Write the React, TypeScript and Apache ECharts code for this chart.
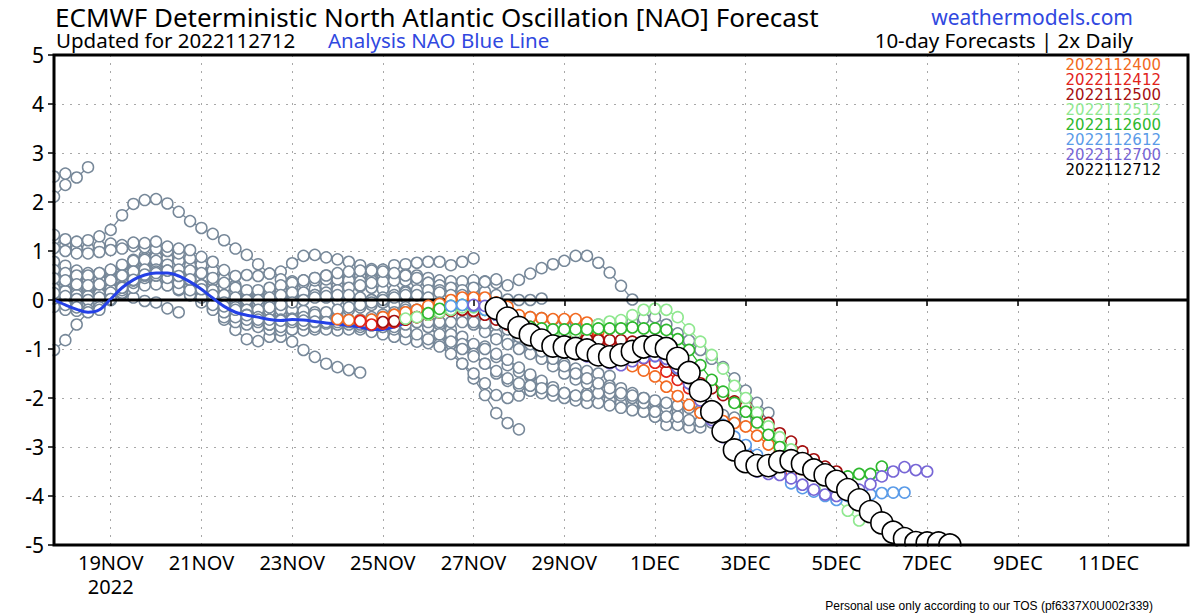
import React, { useEffect, useRef } from "react";
import * as echarts from "echarts";

// x axis: 6-hourly steps, step 0 = 17NOV 18Z, step 100 = 12DEC 18Z
const STEP_COUNT = 101;
const TICK_STEPS = [5, 13, 21, 29, 37, 45, 53, 61, 69, 77, 85, 93];
const TICK_LABELS = ["19NOV\n2022", "21NOV", "23NOV", "25NOV", "27NOV", "29NOV", "1DEC", "3DEC", "5DEC", "7DEC", "9DEC", "11DEC"];

// analysis NAO (blue line), steps 0..39
const ANALYSIS = [0.0, -0.10, -0.19, -0.25, -0.20, 0.02, 0.25, 0.41, 0.51, 0.55, 0.55, 0.49, 0.37, 0.22, 0.04, -0.13, -0.25, -0.31, -0.35, -0.40, -0.42, -0.40, -0.41, -0.44, -0.47, -0.49, -0.52, -0.55, -0.60, -0.60, -0.55, -0.47, -0.39, -0.33, -0.25, -0.19, -0.16, -0.16, -0.22, -0.37];

// older forecasts (grey): init step of each run; values begin at max(0, init)
const GRAY_INITS = [-39, -37, -35, -33, -31, -29, -27, -25, -23, -21, -19, -17, -15, -13, -11, -9, -7, -5, -3, -1, 1, 3, 5, 7, 9, 11, 13, 15, 17, 19, 21, 23];
const GRAY_VALUES = [
  [2.11, 2.35],
  [2.52, 2.58, 2.50, 2.71],
  [-1.02, -0.82, -0.50, -0.24, -0.12, 0.02],
  [0.03, -0.05, -0.12, -0.08, 0.05, 0.2, 0.32, 0.4],
  [0.44, 0.38, 0.3, 0.28, 0.35, 0.45, 0.6, 0.75, 0.8, 0.78],
  [-0.14, -0.2, -0.22, -0.15, 0.0, 0.1, 0.12, 0.05, -0.02, -0.05, -0.17, -0.25],
  [0.34, 0.3, 0.22, 0.2, 0.25, 0.38, 0.5, 0.6, 0.65, 0.68, 0.62, 0.5, 0.4, 0.3],
  [0.55, 0.5, 0.45, 0.4, 0.42, 0.55, 0.7, 0.82, 0.9, 0.95, 0.92, 0.85, 0.75, 0.6, 0.45, 0.35],
  [0.14, 0.1, 0.05, 0.0, 0.05, 0.15, 0.3, 0.42, 0.5, 0.55, 0.55, 0.5, 0.4, 0.25, 0.1, -0.05, -0.15, -0.25],
  [0.24, 0.2, 0.15, 0.12, 0.15, 0.25, 0.38, 0.5, 0.6, 0.65, 0.62, 0.55, 0.45, 0.3, 0.15, 0.0, -0.15, -0.3, -0.4, -0.45],
  [0.78, 0.7, 0.6, 0.55, 0.55, 0.6, 0.7, 0.8, 0.85, 0.88, 0.85, 0.8, 0.7, 0.55, 0.4, 0.25, 0.15, 0.1, 0.1, 0.15, 0.2, 0.25],
  [1.24, 1.12, 1.05, 1.06, 1.1, 1.15, 1.12, 1.1, 1.08, 1.05, 1.0, 0.95, 0.85, 0.72, 0.6, 0.45, 0.3, 0.15, 0.05, 0.0, 0.0, 0.05, 0.1, 0.1],
  [0.61, 0.55, 0.5, 0.5, 0.55, 0.62, 0.72, 0.8, 0.82, 0.8, 0.72, 0.6, 0.45, 0.3, 0.15, 0.0, -0.1, -0.2, -0.25, -0.3, -0.3, -0.3, -0.32, -0.35, -0.4, -0.45],
  [0.1, 0.05, 0.0, -0.05, 0.0, 0.1, 0.2, 0.3, 0.35, 0.35, 0.3, 0.2, 0.1, 0.0, -0.15, -0.4, -0.61, -0.8, -0.84, -0.75, -0.75, -0.85, -1.02, -1.16, -1.3, -1.37, -1.43, -1.48],
  [1.06, 1.0, 0.95, 0.95, 0.98, 1.02, 1.05, 1.17, 1.16, 1.19, 1.09, 1.05, 1.02, 0.88, 0.78, 0.61, 0.49, 0.51, 0.49, 0.54, 0.58, 0.75, 0.9, 0.92, 0.87, 0.83, 0.78, 0.71, 0.63, 0.61],
  [0.03, 0.0, -0.05, -0.1, -0.05, 0.05, 0.15, 0.25, 0.3, 0.32, 0.3, 0.22, 0.1, -0.05, -0.2, -0.35, -0.45, -0.5, -0.55, -0.6, -0.62, -0.6, -0.58, -0.55, -0.5, -0.48, -0.45, -0.45, -0.48, -0.5, -0.55, -0.6],
  [0.24, 0.18, 0.1, 0.08, 0.12, 0.22, 0.35, 0.45, 0.52, 0.55, 0.5, 0.4, 0.25, 0.1, -0.05, -0.15, -0.22, -0.25, -0.22, -0.15, -0.05, 0.05, 0.15, 0.22, 0.28, 0.3, 0.3, 0.28, 0.25, 0.22, 0.2, 0.18, 0.15, 0.12],
  [0.14, 0.08, 0.02, 0.0, 0.05, 0.15, 0.28, 0.4, 0.48, 0.52, 0.5, 0.42, 0.3, 0.15, 0.0, -0.12, -0.25, -0.35, -0.42, -0.45, -0.45, -0.42, -0.4, -0.35, -0.3, -0.25, -0.2, -0.15, -0.1, -0.05, 0.0, 0.05, 0.1, 0.15, 0.2, 0.25],
  [1.33, 1.24, 1.19, 1.22, 1.3, 1.43, 1.73, 1.96, 2.04, 2.06, 1.97, 1.8, 1.61, 1.47, 1.35, 1.22, 1.05, 0.92, 0.73, 0.54, 0.42, 0.38, 0.4, 0.45, 0.5, 0.52, 0.5, 0.5, 0.55, 0.62, 0.71, 0.73, 0.76, 0.78, 0.78, 0.71, 0.78, 0.85],
  [0.44, 0.4, 0.32, 0.3, 0.32, 0.4, 0.5, 0.58, 0.62, 0.62, 0.58, 0.5, 0.4, 0.28, 0.15, 0.05, 0.0, 0.0, 0.05, 0.12, 0.2, 0.28, 0.35, 0.4, 0.42, 0.42, 0.4, 0.38, 0.4, 0.45, 0.5, 0.52, 0.5, 0.45, 0.4, 0.38, 0.38, 0.4, 0.38, 0.35],
  [-0.10, -0.15, -0.20, -0.15, 0.0, 0.2, 0.35, 0.45, 0.5, 0.48, 0.4, 0.28, 0.1, -0.05, -0.2, -0.3, -0.35, -0.4, -0.45, -0.5, -0.55, -0.55, -0.52, -0.5, -0.5, -0.48, -0.45, -0.4, -0.35, -0.3, -0.3, -0.38, -0.55, -0.75, -1.0, -1.3, -1.6, -1.94, -2.31, -2.51, -2.64],
  [-0.25, -0.2, 0.0, 0.25, 0.4, 0.5, 0.55, 0.55, 0.5, 0.4, 0.3, 0.2, 0.1, 0.0, -0.05, -0.1, -0.1, -0.05, 0.0, 0.05, 0.1, 0.15, 0.2, 0.25, 0.3, 0.35, 0.38, 0.4, 0.4, 0.38, 0.35, 0.3, 0.25, 0.2, 0.17, 0.17, 0.1, 0.01, 0.0, 0.0, 0.03],
  [0.02, 0.25, 0.4, 0.5, 0.5, 0.45, 0.35, 0.2, 0.05, -0.1, -0.25, -0.35, -0.4, -0.45, -0.5, -0.5, -0.48, -0.45, -0.45, -0.48, -0.5, -0.55, -0.6, -0.65, -0.7, -0.75, -0.8, -0.85, -0.88, -0.9, -0.9, -0.9, -0.92, -0.95, -1.16, -1.33, -1.46, -1.56, -1.7, -1.87, -1.96],
  [0.41, 0.52, 0.58, 0.6, 0.55, 0.45, 0.3, 0.15, 0.0, -0.1, -0.18, -0.2, -0.22, -0.2, -0.2, -0.22, -0.25, -0.3, -0.35, -0.4, -0.45, -0.5, -0.55, -0.6, -0.65, -0.7, -0.8, -0.95, -1.1, -1.3, -1.5, -1.7, -1.94, -2.0, -1.95, -1.85, -1.78, -1.8, -1.9, -1.96, -1.9],
  [0.55, 0.6, 0.62, 0.6, 0.55, 0.45, 0.35, 0.25, 0.2, 0.2, 0.25, 0.3, 0.35, 0.4, 0.45, 0.5, 0.55, 0.58, 0.6, 0.6, 0.58, 0.55, 0.5, 0.45, 0.35, 0.2, 0.0, -0.2, -0.4, -0.55, -0.7, -0.8, -0.9, -1.0, -1.1, -1.2, -1.3, -1.4, -1.45, -1.5, -1.55],
  [0.49, 0.42, 0.3, 0.2, 0.1, 0.05, 0.0, 0.0, 0.05, 0.1, 0.15, 0.15, 0.1, 0.05, 0.0, -0.05, -0.05, 0.0, 0.05, 0.1, 0.15, 0.2, 0.2, 0.15, 0.1, 0.1, 0.25, 0.37, 0.42, 0.3, 0.41, 0.54, 0.65, 0.73, 0.8, 0.9, 0.9, 0.76, 0.56, 0.29, 0.01],
  [0.22, 0.1, -0.05, -0.15, -0.2, -0.2, -0.15, -0.1, -0.05, 0.0, 0.05, 0.08, 0.1, 0.1, 0.05, 0.0, -0.05, -0.1, -0.15, -0.2, -0.3, -0.45, -0.6, -0.75, -0.9, -1.0, -1.1, -1.22, -1.38, -1.52, -1.65, -1.78, -1.9, -1.96, -1.95, -1.92, -2.04, -2.1, -2.17, -2.24, -2.38],
  [-0.13, -0.2, -0.3, -0.35, -0.4, -0.4, -0.38, -0.35, -0.3, -0.25, -0.2, -0.15, -0.1, -0.05, 0.0, 0.05, 0.1, 0.1, 0.05, -0.05, -0.2, -0.35, -0.5, -0.65, -0.8, -0.9, -1.0, -1.1, -1.2, -1.35, -1.5, -1.62, -1.7, -1.72, -1.75, -1.8, -1.9, -2.0, -2.1, -2.2, -2.3],
  [-0.31, -0.4, -0.5, -0.55, -0.6, -0.62, -0.6, -0.55, -0.5, -0.45, -0.4, -0.35, -0.3, -0.25, -0.2, -0.25, -0.35, -0.5, -0.7, -0.9, -1.1, -1.3, -1.5, -1.65, -1.75, -1.85, -1.9, -1.95, -2.0, -2.05, -2.1, -2.1, -2.15, -2.2, -2.25, -2.28, -2.38, -2.55, -2.55, -2.6, -2.6],
  [-0.4, -0.42, -0.45, -0.5, -0.55, -0.6, -0.62, -0.6, -0.55, -0.5, -0.45, -0.4, -0.4, -0.45, -0.55, -0.7, -0.85, -1.0, -1.15, -1.3, -1.45, -1.6, -1.7, -1.75, -1.8, -1.85, -1.9, -1.95, -1.95, -1.9, -1.9, -1.95, -2.0, -2.1, -2.28, -2.38, -2.38, -2.45, -2.48, -2.5, -2.52],
  [-0.4, -0.42, -0.45, -0.48, -0.5, -0.5, -0.5, -0.52, -0.55, -0.55, -0.5, -0.45, -0.45, -0.45, -0.45, -0.45, -0.45, -0.47, -0.5, -0.6, -0.75, -0.9, -1.05, -1.2, -1.35, -1.5, -1.6, -1.7, -1.8, -1.9, -1.95, -2.0, -2.05, -2.1, -2.15, -2.2, -2.25, -2.3, -2.35, -2.4, -2.45],
  [-0.44, -0.45, -0.45, -0.45, -0.42, -0.4, -0.35, -0.3, -0.25, -0.2, -0.15, -0.1, -0.08, -0.1, -0.15, -0.2, -0.25, -0.3, -0.33, -0.35, -0.37, -0.4, -0.42, -0.45, -0.48, -0.5, -0.52, -0.5, -0.45, -0.38, -0.35, -0.5, -0.68, -0.83, -1.02, -1.2, -1.37, -1.6, -1.85, -2.1, -2.3],
];

// recent forecasts (coloured), each 41 six-hourly values from its init step
const RUN_NAMES = ["2022112400", "2022112412", "2022112500", "2022112512", "2022112600", "2022112612", "2022112700", "2022112712"];
const RUN_COLORS = ["#f26a21", "#e2231a", "#a50f0f", "#90e890", "#2eb82e", "#5a9be8", "#7766d6", "#000000"];
const RUN_STARTS = [25, 27, 29, 31, 33, 35, 37, 39];
const RUN_2400 = [-0.39, -0.41, -0.42, -0.4, -0.35, -0.3, -0.25, -0.2, -0.12, -0.08, 0.0, 0.05, 0.05, 0.05, -0.05, -0.14, -0.31, -0.35, -0.37, -0.39, -0.39, -0.39, -0.46, -0.65, -0.9, -1.15, -1.35, -1.44, -1.56, -1.77, -1.96, -2.14, -2.3, -2.4, -2.47, -2.51, -2.58, -2.77, -2.95, -3.1, -3.25];
const RUN_2412 = [-0.43, -0.5, -0.48, -0.45, -0.4, -0.35, -0.3, -0.25, -0.2, -0.2, -0.22, -0.25, -0.35, -0.45, -0.5, -0.55, -0.6, -0.63, -0.66, -0.68, -0.7, -0.8, -0.9, -1.0, -1.1, -1.19, -1.28, -1.46, -1.63, -1.8, -2.0, -2.35, -2.62, -2.89, -3.09, -3.25, -3.4, -3.47, -3.5, -3.45, -3.4];
const RUN_2500 = [-0.45, -0.43, -0.4, -0.35, -0.3, -0.25, -0.22, -0.2, -0.22, -0.3, -0.4, -0.5, -0.58, -0.64, -0.7, -0.73, -0.76, -0.78, -0.8, -0.82, -0.82, -0.82, -0.85, -0.95, -1.09, -1.26, -1.43, -1.56, -1.7, -1.8, -1.94, -2.07, -2.17, -2.34, -2.51, -2.72, -2.89, -3.09, -3.25, -3.4, -3.5];
const RUN_2512 = [-0.38, -0.35, -0.3, -0.25, -0.2, -0.15, -0.15, -0.2, -0.3, -0.45, -0.55, -0.62, -0.66, -0.68, -0.68, -0.66, -0.6, -0.5, -0.44, -0.41, -0.31, -0.2, -0.18, -0.2, -0.35, -0.6, -0.85, -1.12, -1.4, -1.75, -2.0, -2.3, -2.58, -2.8, -3.05, -3.3, -3.55, -3.8, -4.05, -4.3, -4.5];
const RUN_2600 = [-0.27, -0.18, -0.12, -0.1, -0.12, -0.2, -0.3, -0.42, -0.5, -0.55, -0.58, -0.6, -0.6, -0.6, -0.6, -0.58, -0.58, -0.58, -0.56, -0.58, -0.58, -0.61, -0.8, -1.02, -1.33, -1.63, -1.87, -2.1, -2.28, -2.5, -2.75, -3.0, -3.2, -3.35, -3.5, -3.6, -3.65, -3.6, -3.55, -3.55, -3.4];
const RUN_2612 = [-0.12, -0.1, -0.12, -0.2, -0.3, -0.42, -0.6, -0.75, -0.88, -1.0, -1.05, -1.08, -1.1, -1.18, -1.25, -1.25, -1.2, -1.15, -1.15, -1.2, -1.4, -1.7, -2.0, -2.3, -2.55, -2.79, -2.96, -3.16, -3.35, -3.55, -3.74, -3.84, -3.91, -4.0, -4.08, -4.0, -3.97, -3.97, -3.94, -3.93, -3.93];
const RUN_2700 = [-0.1, -0.12, -0.3, -0.45, -0.62, -0.78, -0.9, -1.0, -1.05, -1.1, -1.15, -1.22, -1.29, -1.33, -1.25, -1.18, -1.14, -1.2, -1.38, -1.7, -2.05, -2.45, -2.8, -3.1, -3.35, -3.5, -3.55, -3.57, -3.64, -3.77, -3.87, -3.97, -4.0, -3.9, -3.87, -3.76, -3.6, -3.5, -3.41, -3.47, -3.5];
const RUN_2712 = [-0.17, -0.37, -0.56, -0.71, -0.82, -0.94, -0.96, -0.99, -1.02, -1.12, -1.16, -1.12, -1.05, -0.96, -0.94, -0.99, -1.19, -1.48, -1.85, -2.28, -2.68, -3.06, -3.30, -3.38, -3.38, -3.30, -3.28, -3.34, -3.47, -3.57, -3.70, -3.87, -4.08, -4.32, -4.55, -4.74, -4.87, -4.95, -4.96, -4.96, -5.0];
const RUN_VALUES = [RUN_2400, RUN_2412, RUN_2500, RUN_2512, RUN_2600, RUN_2612, RUN_2700, RUN_2712];

const GRAY = "#778899";
const FONT = '"Noto Sans", sans-serif';

function pairs(start: number, values: number[]) {
  return values.map((v, k) => [start + k, v]);
}

export default function App() {
  const ref = useRef<HTMLDivElement>(null);

  useEffect(() => {
    document.body.style.margin = "0";
    if (!ref.current) return;
    const chart = echarts.init(ref.current, undefined, { renderer: "svg" });

    const cats = Array.from({ length: STEP_COUNT }, (_, i) => String(i));
    const isTick = (i: number) => TICK_STEPS.indexOf(i) >= 0;

    const dotted = { color: "#a8a8a8", type: [2, 6] as any, width: 1 };

    const series: any[] = [];
    GRAY_INITS.forEach((init, k) => {
      series.push({
        type: "line",
        data: pairs(Math.max(0, init), GRAY_VALUES[k]),
        symbol: "circle",
        symbolSize: 11,
        showAllSymbol: true,
        lineStyle: { color: GRAY, width: 1.3 },
        itemStyle: { color: "#ffffff", borderColor: GRAY, borderWidth: 1.5 },
        silent: true,
        emphasis: { disabled: true },
        z: 2,
      });
    });
    series.push({
      type: "line",
      data: [[0, 0], [STEP_COUNT - 1, 0]],
      symbol: "none",
      lineStyle: { color: "#000", width: 3 },
      silent: true,
      emphasis: { disabled: true },
      z: 3,
    });
    series.push({
      type: "line",
      data: pairs(0, ANALYSIS),
      symbol: "none",
      smooth: 0.35,
      lineStyle: { color: "#2440e6", width: 3 },
      silent: true,
      emphasis: { disabled: true },
      z: 4,
    });
    RUN_VALUES.forEach((vals, k) => {
      const last = k === RUN_VALUES.length - 1;
      series.push({
        type: "line",
        name: RUN_NAMES[k],
        data: pairs(RUN_STARTS[k], vals),
        symbol: "circle",
        symbolSize: last ? 22 : 11,
        showAllSymbol: true,
        lineStyle: { color: RUN_COLORS[k], width: last ? 1.5 : 1.3 },
        itemStyle: { color: "#ffffff", borderColor: RUN_COLORS[k], borderWidth: 1.6 },
        silent: true,
        emphasis: { disabled: true },
        z: 5 + k,
      });
    });

    const legendTexts = RUN_NAMES.map((name, k) => ({
      type: "text",
      z: 100,
      style: {
        text: name,
        x: 1161,
        y: 65 + k * 15,
        fill: RUN_COLORS[k],
        font: '15px "DejaVu Sans", sans-serif',
        align: "right",
        textAlign: "right",
        verticalAlign: "middle",
        textVerticalAlign: "middle",
      },
    }));

    const txt = (text: string, x: number, y: number, size: number, fill: string, align = "left", family = FONT) => ({
      type: "text",
      z: 100,
      style: {
        text,
        x,
        y,
        fill,
        font: `${size}px ${family}`,
        align,
        textAlign: align,
        verticalAlign: "middle",
        textVerticalAlign: "middle",
      },
    });

    const option: any = {
      animation: false,
      backgroundColor: "#ffffff",
      grid: { left: 54, top: 55, right: 12, bottom: 71, containLabel: false },
      xAxis: [
        {
          type: "category",
          data: cats,
          boundaryGap: false,
          position: "bottom",
          axisLine: { show: false },
          axisTick: { show: false },
          axisLabel: { show: false },
          splitLine: { show: true, interval: (i: number) => isTick(i), lineStyle: dotted },
          z: 0,
        },
        {
          type: "category",
          data: cats,
          boundaryGap: false,
          position: "bottom",
          offset: 0,
          axisLine: { show: false },
          axisTick: { show: true, interval: (i: number) => isTick(i), length: 6, lineStyle: { color: "#000", width: 1.5 } },
          axisLabel: {
            show: true,
            interval: (i: number) => isTick(i),
            formatter: (v: string) => {
              const k = TICK_STEPS.indexOf(Number(v));
              return k >= 0 ? TICK_LABELS[k] : "";
            },
            fontSize: 20,
            lineHeight: 24,
            fontFamily: FONT,
            color: "#000",
            margin: 5,
          },
          splitLine: { show: false },
          z: 60,
        },
      ],
      yAxis: [
        {
          type: "value",
          min: -5,
          max: 5,
          interval: 1,
          position: "left",
          axisLine: { show: false },
          axisTick: { show: false },
          axisLabel: { show: false },
          splitLine: { show: true, lineStyle: dotted },
          z: 0,
        },
        {
          type: "value",
          min: -5,
          max: 5,
          interval: 1,
          position: "left",
          offset: 0,
          axisLine: { show: false },
          axisTick: { show: true, length: 6, lineStyle: { color: "#000", width: 1.5 } },
          axisLabel: { show: true, fontSize: 21, fontFamily: FONT, color: "#000", margin: 10 },
          splitLine: { show: false },
          z: 60,
        },
      ],
      series,
      graphic: [
        { type: "rect", z: 50, shape: { x: 0, y: 42, width: 52.5, height: 520 }, style: { fill: "#ffffff" }, silent: true },
        { type: "rect", z: 50, shape: { x: 40, y: 546.5, width: 1160, height: 14 }, style: { fill: "#ffffff" }, silent: true },
        { type: "rect", z: 50, shape: { x: 40, y: 42, width: 1160, height: 11.5 }, style: { fill: "#ffffff" }, silent: true },
        { type: "rect", z: 50, shape: { x: 1189.5, y: 42, width: 10.5, height: 520 }, style: { fill: "#ffffff" }, silent: true },
        { type: "rect", z: 100, shape: { x: 54, y: 55, width: 1134, height: 490 }, style: { fill: "none", stroke: "#000", lineWidth: 3 }, silent: true },
        txt("ECMWF Deterministic North Atlantic Oscillation [NAO] Forecast", 55, 17, 26, "#000"),
        txt("Updated for 2022112712", 56, 40, 20.5, "#000"),
        txt("Analysis NAO Blue Line", 328, 40, 20.5, "#3048e0"),
        txt("weathermodels.com", 1133, 17, 21, "#3048e0", "right"),
        txt("10-day Forecasts | 2x Daily", 1133, 40, 20.5, "#000", "right"),
        txt("Personal use only according to our TOS (pf6337X0U002r339)", 1153, 606, 12, "#000", "right", '"Liberation Sans", Arial, sans-serif'),
        ...legendTexts,
      ],
    };

    chart.setOption(option);
    return () => chart.dispose();
  }, []);

  return (
    <div
      ref={ref}
      style={{ position: "absolute", left: 0, top: 0, width: 1200, height: 616, background: "#fff" }}
    />
  );
}
